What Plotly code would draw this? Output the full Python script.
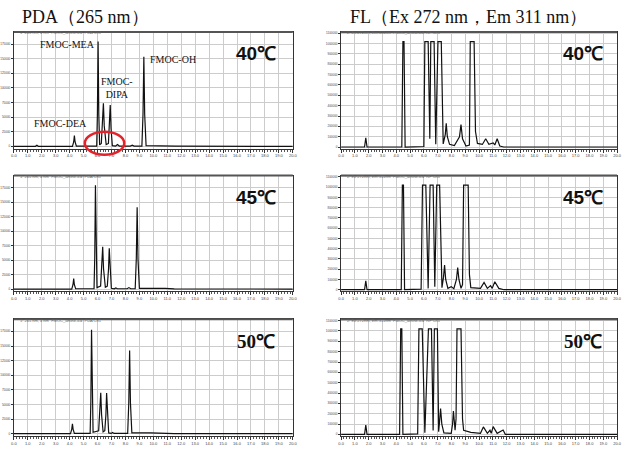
import plotly.graph_objects as go

W, H = 627, 453

# ---------------- data (time in min, signal in grid units) ----------------
pda40_t = [0, 1.55, 1.65, 1.75, 4.20, 4.29, 4.34, 4.39, 4.48, 5.94, 5.99, 6.04, 6.09, 6.15, 6.27, 6.36, 6.42, 6.48, 6.62, 6.78, 6.86, 6.91, 6.97, 7.06, 7.30, 7.43, 7.56, 8.35, 8.49, 8.62, 9.18, 9.26, 9.32, 9.38, 9.48, 10.0, 11.08, 11.6, 20]
pda40_v = [0, 0, 0.08, 0, 0, 0.3, 0.73, 0.3, 0.02, 0.02, 2.2, 7.18, 2.2, 0.1, 0.2, 1.5, 2.94, 1.4, 0.12, 0.2, 1.4, 2.82, 1.2, 0.05, 0.02, 0.12, 0.02, 0.02, 0.08, 0.02, 0.02, 2.2, 6.13, 2.2, 0.05, 0.04, 0.05, 0.01, 0]

pda45_t = [0, 1.55, 1.65, 1.75, 4.15, 4.24, 4.29, 4.34, 4.43, 5.75, 5.80, 5.85, 5.90, 5.96, 6.22, 6.31, 6.37, 6.43, 6.56, 6.70, 6.79, 6.84, 6.90, 6.99, 7.20, 7.31, 7.42, 8.12, 8.25, 8.38, 8.70, 8.78, 8.84, 8.90, 9.00, 9.8, 10.85, 11.5, 20]
pda45_v = [0, 0, 0.05, 0, 0, 0.3, 0.72, 0.3, 0.02, 0.02, 2.2, 7.16, 2.2, 0.1, 0.2, 1.5, 2.91, 1.4, 0.12, 0.2, 1.4, 2.82, 1.2, 0.05, 0.02, 0.08, 0.02, 0.02, 0.1, 0.02, 0.02, 2.1, 5.64, 2.1, 0.05, 0.06, 0.05, 0.01, 0]

pda50_t = [0, 1.50, 1.60, 1.70, 4.06, 4.15, 4.20, 4.25, 4.34, 5.47, 5.52, 5.57, 5.62, 5.68, 6.08, 6.17, 6.23, 6.29, 6.40, 6.52, 6.60, 6.65, 6.71, 6.80, 6.98, 7.08, 7.18, 7.85, 7.97, 8.09, 8.16, 8.24, 8.30, 8.36, 8.46, 9.8, 10.9, 11.5, 20]
pda50_v = [0, 0, 0.04, 0, 0, 0.3, 0.68, 0.3, 0.02, 0.02, 2.2, 7.11, 2.2, 0.1, 0.2, 1.4, 2.80, 1.3, 0.12, 0.2, 1.3, 2.78, 1.2, 0.05, 0.02, 0.08, 0.02, 0.02, 0.06, 0.02, 0.02, 2.1, 5.69, 2.1, 0.05, 0.05, 0.04, 0.01, 0]

fl40_t = [0, 1.70, 1.79, 1.88, 4.40, 4.48, 4.56, 4.64, 6.00, 6.07, 6.31, 6.43, 6.50, 6.74, 6.86, 7.02, 7.26, 7.40, 7.55, 7.62, 7.70, 7.86, 8.21, 8.58, 8.69, 8.80, 9.05, 9.30, 9.36, 9.64, 9.74, 9.88, 10.24, 10.48, 10.71, 11.02, 11.14, 11.31, 11.50, 11.79, 20]
fl40_v = [0, 0, 0.9, 0, 0, 10.2, 10.2, 0, 0.05, 10.2, 10.2, 0.8, 10.2, 10.2, 0.26, 10.2, 10.2, 0.3, 1.2, 2.3, 1.0, 0.26, 0.15, 1.0, 2.16, 0.8, 0.1, 0.2, 10.2, 10.2, 1.5, 0.35, 0.25, 0.8, 0.26, 0.4, 0.2, 0.8, 0.1, 0, 0]

fl45_t = [0, 1.70, 1.79, 1.88, 4.36, 4.44, 4.52, 4.60, 5.80, 5.90, 6.14, 6.31, 6.45, 6.67, 6.79, 6.93, 7.14, 7.31, 7.42, 7.50, 7.58, 7.74, 7.98, 8.17, 8.36, 8.45, 8.54, 8.69, 8.80, 8.88, 9.21, 9.30, 9.40, 10.10, 10.36, 10.60, 10.83, 10.95, 11.14, 11.43, 11.80, 20]
fl45_v = [0, 0, 0.87, 0, 0, 10.2, 10.2, 0, 0.05, 10.2, 10.2, 0.13, 10.2, 10.2, 0.3, 10.2, 10.2, 0.2, 1.2, 2.4, 1.0, 0.13, 0.3, 0.1, 1.0, 2.17, 1.0, 0.13, 0.5, 10.2, 10.2, 1.5, 0.2, 0.13, 0.7, 0.13, 0.4, 0.13, 0.78, 0.13, 0, 0]

fl50_t = [0, 1.70, 1.79, 1.88, 4.24, 4.32, 4.40, 4.48, 5.55, 5.64, 5.88, 6.07, 6.33, 6.55, 6.67, 6.76, 6.98, 7.07, 7.14, 7.21, 7.30, 7.45, 7.98, 8.08, 8.14, 8.22, 8.26, 8.33, 8.40, 8.69, 8.80, 8.88, 9.40, 10.10, 10.31, 10.60, 10.79, 10.88, 11.02, 11.31, 11.74, 11.90, 20]
fl50_v = [0, 0, 0.9, 0, 0, 10.2, 10.2, 0, 0.05, 10.2, 10.2, 0.16, 10.2, 10.2, 0.38, 10.2, 10.2, 0.25, 1.3, 2.5, 1.0, 0.15, 0.1, 1.0, 2.26, 0.8, 0.4, 1.5, 10.2, 10.2, 1.5, 0.4, 0.2, 0.1, 0.72, 0.1, 0.4, 0.1, 0.75, 0.1, 0.42, 0, 0]

x_ticks = list(range(0, 21))
x_ticktext = [f"{v:.1f}" for v in x_ticks]
pda_yticks = list(range(0, 8))
pda_yticktext = ["0"] + [f"{v*25000}" for v in pda_yticks[1:]]
fl_yticks = list(range(0, 12))
fl_yticktext = ["0"] + [f"{v*100000}" for v in fl_yticks[1:]]

titles = ["PDA（265 nm）", "FL（Ex 272 nm，Em 311 nm）"]
temps = ["40℃", "45℃", "50℃"]
compounds = ["FMOC-MEA", "FMOC-<br>DIPA", "FMOC-OH", "FMOC-DEA"]
headers = ["1: 265 nm, 4 nm  FMOC_amine.lcd  PDA Ch1",
           "2: Ex:272nm, Em:311nm  FMOC_amine.lcd  RF Ch1"]

# ---------------- layout helpers ----------------
def px_x(p):
    return p / W

def px_y(p):
    return 1 - p / H

col_px = [(10, 293), (342, 622)]
row_px = [(31, 148), (175, 291), (319, 436)]

series = [(pda40_t, pda40_v), (fl40_t, fl40_v),
          (pda45_t, pda45_v), (fl45_t, fl45_v),
          (pda50_t, pda50_v), (fl50_t, fl50_v)]

fig = go.Figure()
layout = dict(width=W, height=H, margin=dict(l=0, r=0, t=0, b=0),
              paper_bgcolor="white", plot_bgcolor="white", showlegend=False)

annotations = []
shapes = []

for i, (t, v) in enumerate(series):
    r, c = divmod(i, 2)
    n = i + 1
    xa = "x" if n == 1 else f"x{n}"
    ya = "y" if n == 1 else f"y{n}"
    fig.add_trace(go.Scatter(x=t, y=v, mode="lines", xaxis=xa, yaxis=ya,
                             line=dict(color="#111111", width=1.2),
                             hoverinfo="skip"))
    xk = "xaxis" if n == 1 else f"xaxis{n}"
    yk = "yaxis" if n == 1 else f"yaxis{n}"
    x0, x1 = col_px[c]
    y0, y1 = row_px[r]
    layout[xk] = dict(domain=[px_x(x0), px_x(x1)], range=[0, 20], anchor=ya,
                      tickvals=x_ticks, ticktext=x_ticktext,
                      showgrid=True, gridcolor="#cccccc", gridwidth=1,
                      showline=True, linecolor="#333333", linewidth=1, mirror=True,
                      ticks="outside", ticklen=3, tickcolor="#333333",
                      tickfont=dict(size=4, color="#444444", family="Liberation Sans"),
                      minor=dict(dtick=0.2, ticks="outside", ticklen=2,
                                 tickcolor="#555555", showgrid=False),
                      zeroline=False, fixedrange=True)
    if c == 0:
        yr = [-0.16, 7.83]
        tv, tt = pda_yticks, pda_yticktext
    else:
        yr = [-0.16, 11.13]
        tv, tt = fl_yticks, fl_yticktext
    layout[yk] = dict(domain=[px_y(y1), px_y(y0)], range=yr, anchor=xa,
                      tickvals=tv, ticktext=tt,
                      showgrid=True, gridcolor="#cccccc", gridwidth=1,
                      showline=True, linecolor="#333333", linewidth=1, mirror=True,
                      ticks="outside", ticklen=2, tickcolor="#333333",
                      tickfont=dict(size=3, color="#444444", family="Liberation Sans"),
                      zeroline=False, fixedrange=True)
    # thick top bar of each chromatogram frame
    shapes.append(dict(type="line", xref="paper", yref="paper",
                       x0=px_x(x0), x1=px_x(x1), y0=px_y(y0), y1=px_y(y0),
                       line=dict(color="#555555", width=2)))
    # tiny header text
    annotations.append(dict(text=headers[c], x=px_x(x0 + 4), y=px_y(y0 + 1),
                            xref="paper", yref="paper", xanchor="left", yanchor="middle",
                            showarrow=False,
                            font=dict(size=4, color="#666666", family="Liberation Sans")))
    # temperature label
    tfam = "Liberation Serif" if r == 2 else "Liberation Sans"
    annotations.append(dict(text=f"<b>{temps[r]}</b>",
                            x=px_x(256 if c == 0 else 587), y=px_y(y0 + 22),
                            xref="paper", yref="paper", xanchor="center", yanchor="middle",
                            showarrow=False,
                            font=dict(size=19, color="#111111", family=tfam)))

# panel titles
annotations.append(dict(text=titles[0], x=px_x(16), y=px_y(16), xref="paper", yref="paper",
                        xanchor="left", yanchor="middle", showarrow=False,
                        font=dict(size=18, color="#111111", family="Liberation Serif")))
annotations.append(dict(text=titles[1], x=px_x(349), y=px_y(16), xref="paper", yref="paper",
                        xanchor="left", yanchor="middle", showarrow=False,
                        font=dict(size=18, color="#111111", family="Liberation Serif")))

# compound labels (top-left panel)
cmp_pos = [(64, 44), (115, 87), (171, 59), (57, 123)]
for txt, (cx, cy) in zip(compounds, cmp_pos):
    annotations.append(dict(text=txt, x=px_x(cx), y=px_y(cy), xref="paper", yref="paper",
                            xanchor="center", yanchor="middle", showarrow=False,
                            font=dict(size=10, color="#111111", family="Liberation Serif")))

# red ellipse highlight
shapes.append(dict(type="circle", xref="paper", yref="paper",
                   x0=px_x(82), x1=px_x(122), y0=px_y(154), y1=px_y(131),
                   line=dict(color="#e3232b", width=2.5)))

layout["annotations"] = annotations
layout["shapes"] = shapes
fig.update_layout(**layout)
fig.write_html("out.html")
